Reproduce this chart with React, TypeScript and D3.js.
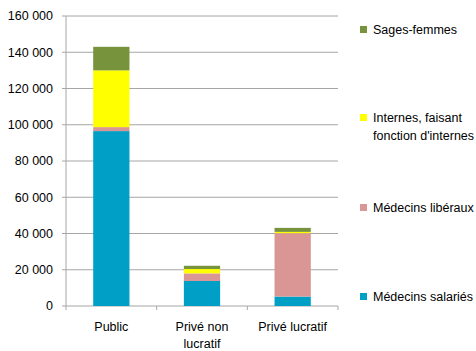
import React from "react";
import * as d3 from "d3";

const categories = [["Public"], ["Privé non", "lucratif"], ["Privé lucratif"]];
const catKeys = ["Public", "Privé non lucratif", "Privé lucratif"];
const seriesNames = ["Médecins salariés", "Médecins libéraux", "Internes, faisant fonction d'internes", "Sages-femmes"];
const salaries = [96500, 13800, 5200];
const liberaux = [2200, 4200, 35000];
const internes = [31300, 2400, 700];
const sagesFemmes = [13000, 1800, 2200];
const yTicks = [0, 20000, 40000, 60000, 80000, 100000, 120000, 140000, 160000];
const colors = ["#00A0C6", "#D99694", "#FFFF00", "#77933C"];

const legendItems = [
  { lines: ["Sages-femmes"], color: 3, y: 30 },
  { lines: ["Internes, faisant", "fonction d'internes"], color: 2, y: 118 },
  { lines: ["Médecins libéraux"], color: 1, y: 208 },
  { lines: ["Médecins salariés"], color: 0, y: 297 },
];

export default function App() {
  const W = 476, H = 351;
  const left = 66, right = 338, top = 16, bottom = 306;
  const x = d3.scaleBand().domain(catKeys).range([left, right]).paddingInner(0.6).paddingOuter(0.3);
  const y = d3.scaleLinear().domain([0, 160000]).range([bottom, top]);
  const rows = catKeys.map((c, i) => ({ cat: c, s0: salaries[i], s1: liberaux[i], s2: internes[i], s3: sagesFemmes[i] }));
  const stack = d3.stack<any>().keys(["s0", "s1", "s2", "s3"])(rows);
  const step = (right - left) / catKeys.length;
  const font = "'Liberation Sans', Arial, sans-serif";
  const grey = "#A6A6A6";
  return (
    <svg width={W} height={H} style={{ position: "absolute", left: 0, top: 0 }} fontFamily={font}>
      {yTicks.map((t) => (
        <g key={t}>
          <line x1={left - 4} x2={right} y1={y(t)} y2={y(t)} stroke={grey} strokeWidth={1} />
          <text x={53} y={y(t)} dy="0.35em" textAnchor="end" fontSize={12.5} fill="#000">
            {d3.format(",")(t).replace(/,/g, " ")}
          </text>
        </g>
      ))}
      <line x1={left} x2={left} y1={top} y2={bottom} stroke={grey} />
      {[0, 1, 2, 3].map((i) => (
        <line key={i} x1={left + step * i} x2={left + step * i} y1={bottom} y2={bottom + 4} stroke={grey} />
      ))}
      {stack.map((layer, si) =>
        layer.map((d, ci) => (
          <rect key={si + "-" + ci} x={x(catKeys[ci])} width={x.bandwidth()} y={y(d[1])} height={y(d[0]) - y(d[1])} fill={colors[si]} />
        ))
      )}
      {categories.map((lines, ci) => (
        <text key={ci} x={(x(catKeys[ci]) as number) + x.bandwidth() / 2} y={331} textAnchor="middle" fontSize={12.5} fill="#000">
          {lines.map((l, li) => (
            <tspan key={li} x={(x(catKeys[ci]) as number) + x.bandwidth() / 2} dy={li === 0 ? 0 : 17}>{l}</tspan>
          ))}
        </text>
      ))}
      {legendItems.map((it, i) => (
        <g key={i}>
          <rect x={360} y={it.y - 4} width={7} height={7} fill={colors[it.color]} />
          <text x={373} y={it.y} dy="0.35em" fontSize={12.5} fill="#000">
            {it.lines.map((l, li) => (
              <tspan key={li} x={373} dy={li === 0 ? "0.35em" : 18}>{l}</tspan>
            ))}
          </text>
        </g>
      ))}
    </svg>
  );
}
